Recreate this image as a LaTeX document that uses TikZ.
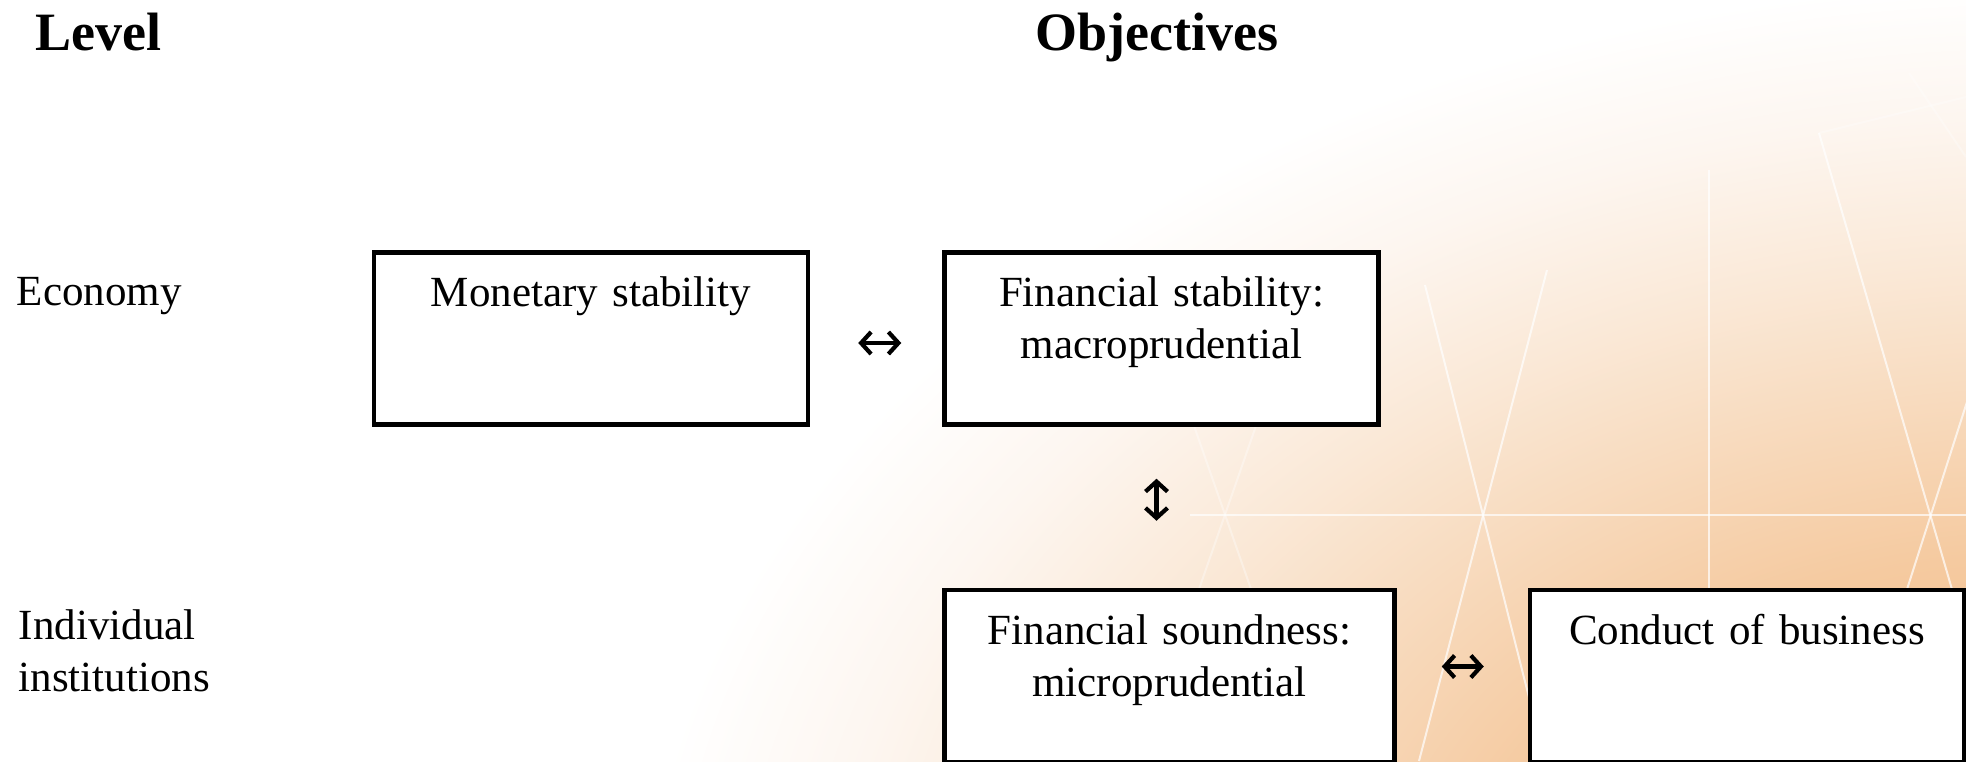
\documentclass[tikz,border=0pt]{standalone}
\usepackage{fontspec}
\setmainfont{Liberation Serif}
\usepackage{tikz}
\usetikzlibrary{positioning}
\usetikzlibrary{arrows.meta}
\definecolor{peachdeep}{RGB}{240,176,120}
\definecolor{peachmid}{RGB}{245,202,160}
\definecolor{peachpale}{RGB}{250,232,214}
\definecolor{peachfaint}{RGB}{253,246,240}
\pgfdeclareradialshading{peachglow}{\pgfpoint{0bp}{0bp}}{color(0bp)=(peachdeep); color(9bp)=(peachmid); color(15.5bp)=(peachpale); color(19bp)=(peachfaint); color(22bp)=(white); color(25bp)=(white); color(50bp)=(white)}

\begin{document}
\begin{tikzpicture}[x=0.5pt,y=-0.5pt,thick]
    % stile dei riquadri
    \tikzstyle{objbox}=[draw=black,line width=2.25pt,fill=white,inner sep=0pt,text width=217pt,align=center,text height=27pt,text depth=59pt,font=\fontsize{21.5}{26}\selectfont]
    \tikzstyle{lvltext}=[inner sep=0pt,anchor=base west,text width=150pt,align=left,font=\fontsize{21.5}{26}\selectfont]
    \tikzstyle{headtext}=[inner sep=0pt,font=\fontsize{27}{32}\selectfont\bfseries]
    \tikzstyle{dblarrow}=[{Straight Barb[length=5pt,width=11pt]}-{Straight Barb[length=5pt,width=11pt]},line width=2.1pt]
    \tikzstyle{glint}=[white,line width=1pt,opacity=0.7]

    \useasboundingbox (0,0) rectangle (1966,761);
    \begin{scope}
    \clip (0,0) rectangle (1966,761);
    \fill[white] (0,0) rectangle (1966,761);
    \shade[shading=peachglow] (2050,950) ellipse (800pt and 550pt);
    \draw[glint] (1190,515) -- (1966,515);
    \draw[glint] (1709,170) -- (1709,600);
    \draw[glint] (1425,285) -- (1545,761);
    \draw[glint] (1547,270) -- (1419,761);
    \draw[glint] (1819,133) -- (2002,761);
    \draw[glint] (1974,380) -- (1852,761);
    \draw[glint,opacity=0.35] (1178,380) -- (1311,761);
    \draw[glint,opacity=0.35] (1272,380) -- (1139,761);
    \draw[glint,opacity=0.3] (1819,133) -- (1966,97);
    \draw[glint,opacity=0.3] (1909,73) -- (1966,157);
    \end{scope}

    \node[headtext,anchor=base west] (head_l) at (35,50) {Level};
    \node[headtext,anchor=base] (head_o) at (1157,50) {Objectives};

    \node[lvltext] (lvl_1) at (16,305) {Economy};
    \node[lvltext] (lvl_2) at (18,639) {Individual\\institutions};

    \node[objbox] (obj_1) at (591,338.5) {Monetary stability};
    \node[objbox,right=66pt of obj_1] (obj_2) {Financial stability:\\macroprudential};
    \node[objbox,text width=225pt,below=80.5pt of obj_2.south west,anchor=north west] (obj_3) {Financial soundness:\\microprudential};
    \node[objbox,right=65.5pt of obj_3] (obj_4) {Conduct of business};

    \draw[dblarrow,shorten <=24pt,shorten >=20.5pt] ([yshift=-2.25pt]obj_1.east) -- ([yshift=-2.25pt]obj_2.west);
    \draw[dblarrow,shorten <=26pt,shorten >=33.5pt] ([xshift=-2.5pt]obj_2.south) -- ([xshift=-2.5pt]obj_2.south |- obj_3.north);
    \draw[dblarrow,shorten <=22.5pt,shorten >=22pt] ([yshift=4.75pt]obj_3.east) -- ([yshift=4.75pt]obj_4.west);
\end{tikzpicture}
\end{document}
